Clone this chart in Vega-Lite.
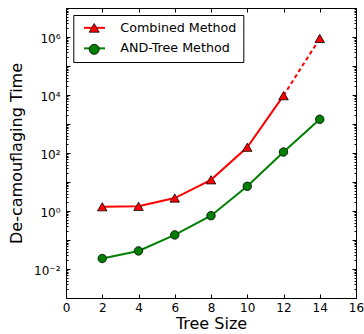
{
  "$schema": "https://vega.github.io/schema/vega-lite/v6.json",
  "width": 290,
  "height": 290,
  "autosize": "none",
  "padding": {"left": 66, "top": 8, "right": 8, "bottom": 36},
  "background": "white",
  "data": {
    "values": [
      {"tree_size": 2, "time": 1.4, "method": "Combined Method"},
      {"tree_size": 4, "time": 1.45, "method": "Combined Method"},
      {"tree_size": 6, "time": 2.8, "method": "Combined Method"},
      {"tree_size": 8, "time": 11.9, "method": "Combined Method"},
      {"tree_size": 10, "time": 158, "method": "Combined Method"},
      {"tree_size": 12, "time": 9500, "method": "Combined Method"},
      {"tree_size": 14, "time": 890000, "method": "Combined Method"},
      {"tree_size": 2, "time": 0.023, "method": "AND-Tree Method"},
      {"tree_size": 4, "time": 0.042, "method": "AND-Tree Method"},
      {"tree_size": 6, "time": 0.15, "method": "AND-Tree Method"},
      {"tree_size": 8, "time": 0.69, "method": "AND-Tree Method"},
      {"tree_size": 10, "time": 7.1, "method": "AND-Tree Method"},
      {"tree_size": 12, "time": 108, "method": "AND-Tree Method"},
      {"tree_size": 14, "time": 1450, "method": "AND-Tree Method"}
    ]
  },
  "config": {
    "view": {"stroke": "black", "strokeWidth": 1},
    "axis": {
      "grid": false,
      "domain": false,
      "tickColor": "black",
      "tickWidth": 1,
      "labelFont": "DejaVu Sans",
      "labelFontSize": 12,
      "labelColor": "black",
      "titleFont": "DejaVu Sans",
      "titleFontSize": 16,
      "titleFontWeight": "normal",
      "titleColor": "black"
    },
    "legend": {
      "labelFont": "DejaVu Sans",
      "labelFontSize": 12.7,
      "labelLimit": 0
    }
  },
  "layer": [
    {
      "transform": [{"filter": "!(datum.method === 'Combined Method' && datum.tree_size > 12)"}],
      "mark": {"type": "line", "strokeWidth": 2},
      "encoding": {
        "x": {
          "field": "tree_size", "type": "quantitative",
          "scale": {"domain": [0, 16], "nice": false, "zero": false},
          "axis": {"orient": "bottom", "values": [0, 2, 4, 6, 8, 10, 12, 14, 16], "tickSize": -4, "labelPadding": 8, "labelFlush": false, "title": "Tree Size", "titlePadding": 2}
        },
        "y": {
          "field": "time", "type": "quantitative",
          "scale": {"type": "log", "domain": [0.001, 10000000], "nice": false},
          "axis": {
            "orient": "left",
            "values": [0.001, 0.01, 0.1, 1, 10, 100, 1000, 10000, 100000, 1000000, 10000000],
            "tickSize": -4, "labelPadding": 10, "labelOffset": 1,
            "labelExpr": "datum.value === 0.01 ? '10⁻²' : datum.value === 1 ? '10⁰' : datum.value === 100 ? '10²' : datum.value === 10000 ? '10⁴' : datum.value === 1000000 ? '10⁶' : ''",
            "title": "De-camouflaging Time", "titlePadding": 9
          }
        },
        "color": {
          "field": "method", "type": "nominal",
          "scale": {"domain": ["Combined Method", "AND-Tree Method"], "range": ["#ff0000", "#008000"]},
          "legend": {
            "orient": "none", "legendX": 7.3, "legendY": 7,
            "title": null,
            "symbolType": "M-2.1,0L2.1,0",
            "symbolSize": 100,
            "symbolStrokeWidth": 2,
            "symbolOffset": 8.35,
            "labelOffset": 19.5,
            "labelColor": "black",
            "padding": 6.5,
            "rowPadding": 6.5,
            "strokeColor": "black",
            "fillColor": "white",
            "cornerRadius": 0
          }
        }
      }
    },
    {
      "transform": [{"filter": "datum.method === 'Combined Method' && datum.tree_size >= 12"}],
      "mark": {"type": "line", "strokeWidth": 2, "strokeDash": [4, 3], "color": "#ff0000"},
      "encoding": {
        "x": {
          "field": "tree_size", "type": "quantitative",
          "axis": {"orient": "top", "values": [0, 2, 4, 6, 8, 10, 12, 14, 16], "tickSize": -4, "labels": false, "title": null}
        },
        "y": {
          "field": "time", "type": "quantitative",
          "axis": {"orient": "right", "values": [0.001, 0.01, 0.1, 1, 10, 100, 1000, 10000, 100000, 1000000, 10000000], "tickSize": -4, "labels": false, "title": null}
        }
      }
    },
    {
      "transform": [{"filter": "datum.method === 'Combined Method'"}],
      "mark": {"type": "point", "filled": true, "fill": "#ff0000", "stroke": "black", "strokeWidth": 0.8, "size": 90, "opacity": 1},
      "encoding": {
        "x": {"field": "tree_size", "type": "quantitative", "axis": null},
        "y": {
          "field": "time", "type": "quantitative",
          "axis": {"orient": "left", "tickSize": -2, "labels": false, "title": null,
            "values": [0.002,0.003,0.004,0.005,0.006,0.007,0.008,0.009,0.02,0.03,0.04,0.05,0.06,0.07,0.08,0.09,0.2,0.3,0.4,0.5,0.6,0.7,0.8,0.9,2,3,4,5,6,7,8,9,20,30,40,50,60,70,80,90,200,300,400,500,600,700,800,900,2000,3000,4000,5000,6000,7000,8000,9000,20000,30000,40000,50000,60000,70000,80000,90000,200000,300000,400000,500000,600000,700000,800000,900000,2000000,3000000,4000000,5000000,6000000,7000000,8000000,9000000]}
        },
        "shape": {
          "field": "method", "type": "nominal",
          "scale": {"domain": ["Combined Method", "AND-Tree Method"], "range": ["triangle-up", "circle"]},
          "legend": {
            "orient": "top-left", "offset": 7,
            "title": null,
            "symbolSize": 100,
            "symbolOffset": 8.35,
            "labelOffset": 19.5,
            "labelColor": "transparent",
            "padding": 6.5,
            "rowPadding": 6.5,
            "encoding": {
              "symbols": {
                "shape": {"condition": {"test": "datum.value === 'Combined Method'", "value": "M-2.1,-0.82L-3.05,0.82L-1.15,0.82ZM2.1,-0.82L1.15,0.82L3.05,0.82Z"}, "value": "M-2.96,0A0.86,0.86,0,1,0,-1.24,0A0.86,0.86,0,1,0,-2.96,0ZM1.24,0A0.86,0.86,0,1,0,2.96,0A0.86,0.86,0,1,0,1.24,0Z"},
                "fill": {"condition": {"test": "datum.value === 'Combined Method'", "value": "#ff0000"}, "value": "#008000"},
                "stroke": {"value": "black"},
                "strokeWidth": {"value": 0.8},
                "opacity": {"value": 1}
              }
            }
          }
        }
      }
    },
    {
      "transform": [{"filter": "datum.method === 'AND-Tree Method'"}],
      "mark": {"type": "point", "shape": "circle", "filled": true, "fill": "#008000", "stroke": "black", "strokeWidth": 0.8, "size": 72, "opacity": 1},
      "encoding": {
        "x": {"field": "tree_size", "type": "quantitative", "axis": null},
        "y": {
          "field": "time", "type": "quantitative",
          "axis": {"orient": "right", "tickSize": -2, "labels": false, "title": null,
            "values": [0.002,0.003,0.004,0.005,0.006,0.007,0.008,0.009,0.02,0.03,0.04,0.05,0.06,0.07,0.08,0.09,0.2,0.3,0.4,0.5,0.6,0.7,0.8,0.9,2,3,4,5,6,7,8,9,20,30,40,50,60,70,80,90,200,300,400,500,600,700,800,900,2000,3000,4000,5000,6000,7000,8000,9000,20000,30000,40000,50000,60000,70000,80000,90000,200000,300000,400000,500000,600000,700000,800000,900000,2000000,3000000,4000000,5000000,6000000,7000000,8000000,9000000]}
        }
      }
    }
  ],
  "resolve": {"axis": {"x": "independent", "y": "independent"}}
}
